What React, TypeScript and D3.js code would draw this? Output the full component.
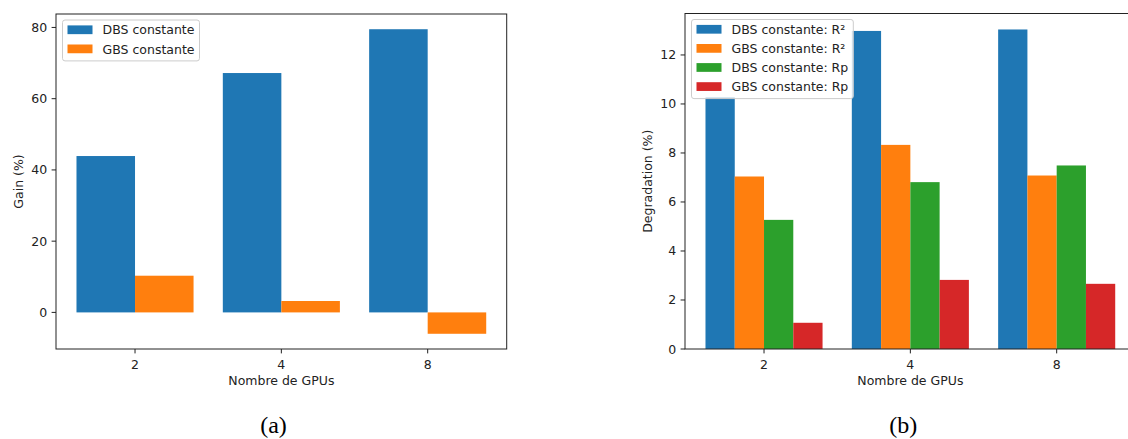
import React, { useEffect, useRef } from "react";
import * as d3 from "d3";

// ---------- data ----------
const categories = ["2", "4", "8"];

const gainSeriesNames = ["DBS constante", "GBS constante"];
const gainDBS = [43.9, 67.2, 79.5];
const gainGBS = [10.3, 3.2, -6.0];
const gainTicks = [0, 20, 40, 60, 80];

const degSeriesNames = [
  "DBS constante: R²",
  "GBS constante: R²",
  "DBS constante: Rp",
  "GBS constante: Rp",
];
const degDBSR2 = [10.28, 12.98, 13.04];
const degGBSR2 = [7.04, 8.33, 7.08];
const degDBSRp = [5.27, 6.81, 7.49];
const degGBSRp = [1.07, 2.82, 2.66];
const degTicks = [0, 2, 4, 6, 8, 10, 12];

const palette = ["#1f77b4", "#ff7f0e", "#2ca02c", "#d62728"];

const FONT = "'DejaVu Sans', sans-serif";
const FS = 12.5;
const TICK = 4.4;
const PAD = 4.4;

type Panel = {
  left: number;
  top: number;
  bottom: number;
  width: number;
  series: number[][];
  names: string[];
  yTicks: number[];
  yLabel: string;
  xLabel: string;
  caption: string;
  captionX: number;
};

function drawPanel(svg: d3.Selection<SVGSVGElement, unknown, null, undefined>, p: Panel) {
  const g = svg.append("g");
  const n = p.series.length;
  const groupW = 0.8;
  const bw = groupW / n;
  const xMin = -groupW / 2;
  const xMax = categories.length - 1 + groupW / 2;
  const xr = xMax - xMin;
  const x = d3
    .scaleLinear()
    .domain([xMin - 0.05 * xr, xMax + 0.05 * xr])
    .range([p.left, p.left + p.width]);

  const all = p.series.flat();
  const vMin = Math.min(0, d3.min(all) as number);
  const vMax = Math.max(0, d3.max(all) as number);
  const r = vMax - vMin;
  const lo = vMin < 0 ? vMin - 0.05 * r : 0;
  const hi = vMax + 0.05 * r;
  const y = d3.scaleLinear().domain([lo, hi]).range([p.bottom, p.top]);

  // bars
  p.series.forEach((vals, j) => {
    g.append("g")
      .selectAll("rect")
      .data(vals)
      .join("rect")
      .attr("x", (_d, i) => x(i - groupW / 2 + j * bw))
      .attr("width", x(bw) - x(0))
      .attr("y", (d) => y(Math.max(0, d)))
      .attr("height", (d) => Math.abs(y(d) - y(0)))
      .attr("fill", palette[j]);
  });

  const right = p.left + p.width;
  const ink = "#222";

  // spines
  g.append("rect")
    .attr("x", p.left)
    .attr("y", p.top)
    .attr("width", p.width)
    .attr("height", p.bottom - p.top)
    .attr("fill", "none")
    .attr("stroke", ink)
    .attr("stroke-width", 1);

  // y ticks
  const yt = g.append("g");
  p.yTicks.forEach((t) => {
    yt.append("line")
      .attr("x1", p.left - TICK)
      .attr("x2", p.left)
      .attr("y1", y(t))
      .attr("y2", y(t))
      .attr("stroke", ink)
      .attr("stroke-width", 1);
    yt.append("text")
      .attr("x", p.left - TICK - PAD)
      .attr("y", y(t) + 4.5)
      .attr("text-anchor", "end")
      .attr("font-family", FONT)
      .attr("font-size", FS)
      .attr("fill", ink)
      .text(String(t));
  });

  // x ticks
  const xt = g.append("g");
  categories.forEach((c, i) => {
    xt.append("line")
      .attr("x1", x(i))
      .attr("x2", x(i))
      .attr("y1", p.bottom)
      .attr("y2", p.bottom + TICK)
      .attr("stroke", ink)
      .attr("stroke-width", 1);
    xt.append("text")
      .attr("x", x(i))
      .attr("y", p.bottom + 19.5)
      .attr("text-anchor", "middle")
      .attr("font-family", FONT)
      .attr("font-size", FS)
      .attr("fill", ink)
      .text(c);
  });

  // axis labels
  g.append("text")
    .attr("x", (p.left + right) / 2)
    .attr("y", p.bottom + 36)
    .attr("text-anchor", "middle")
    .attr("font-family", FONT)
    .attr("font-size", FS)
    .attr("fill", ink)
    .text(p.xLabel);

  const cy = (p.top + p.bottom) / 2;
  g.append("text")
    .attr("transform", `translate(${p.left - 33.5},${cy}) rotate(-90)`)
    .attr("text-anchor", "middle")
    .attr("font-family", FONT)
    .attr("font-size", FS)
    .attr("fill", ink)
    .text(p.yLabel);

  // legend
  const lx = p.left + 6.5;
  const ly = p.top + 6;
  const leg = g.append("g");
  const box = leg
    .append("rect")
    .attr("x", lx)
    .attr("y", ly)
    .attr("rx", 2.5)
    .attr("ry", 2.5)
    .attr("fill", "white")
    .attr("fill-opacity", 0.8)
    .attr("stroke", "#cccccc")
    .attr("stroke-width", 1);
  const rowH = 19.1;
  let maxW = 0;
  p.names.forEach((name, j) => {
    const rc = ly + 9.8 + j * rowH;
    leg.append("rect")
      .attr("x", lx + 5)
      .attr("y", rc - 4.4)
      .attr("width", 25)
      .attr("height", 8.75)
      .attr("fill", palette[j]);
    const t = leg
      .append("text")
      .attr("x", lx + 5 + 25 + 10)
      .attr("y", rc + 4.6)
      .attr("font-family", FONT)
      .attr("font-size", FS)
      .attr("fill", ink)
      .text(name);
    const node = t.node() as SVGTextElement;
    maxW = Math.max(maxW, node.getComputedTextLength());
  });
  const lastC = ly + 9.8 + (p.names.length - 1) * rowH;
  box.attr("width", 5 + 25 + 10 + maxW + 5).attr("height", lastC + 12 - ly);

  // caption
  g.append("text")
    .attr("x", p.captionX)
    .attr("y", 432.5)
    .attr("text-anchor", "middle")
    .attr("font-family", "'Liberation Serif', serif")
    .attr("font-size", 24)
    .attr("fill", "#000")
    .text(p.caption);
}

export default function App() {
  const ref = useRef<SVGSVGElement | null>(null);

  useEffect(() => {
    if (!ref.current) return;
    const svg = d3.select(ref.current);
    svg.selectAll("*").remove();
    svg.append("rect").attr("width", 1128).attr("height", 439).attr("fill", "white");

    drawPanel(svg, {
      left: 56,
      top: 14,
      bottom: 349,
      width: 450.7,
      series: [gainDBS, gainGBS],
      names: gainSeriesNames,
      yTicks: gainTicks,
      yLabel: "Gain (%)",
      xLabel: "Nombre de GPUs",
      caption: "(a)",
      captionX: 273.5,
    });

    drawPanel(svg, {
      left: 685,
      top: 13.5,
      bottom: 349,
      width: 450.7,
      series: [degDBSR2, degGBSR2, degDBSRp, degGBSRp],
      names: degSeriesNames,
      yTicks: degTicks,
      yLabel: "Degradation (%)",
      xLabel: "Nombre de GPUs",
      caption: "(b)",
      captionX: 903.3,
    });
  }, []);

  return (
    <svg
      ref={ref}
      width={1128}
      height={439}
      style={{ position: "absolute", left: 0, top: 0, display: "block" }}
    />
  );
}
